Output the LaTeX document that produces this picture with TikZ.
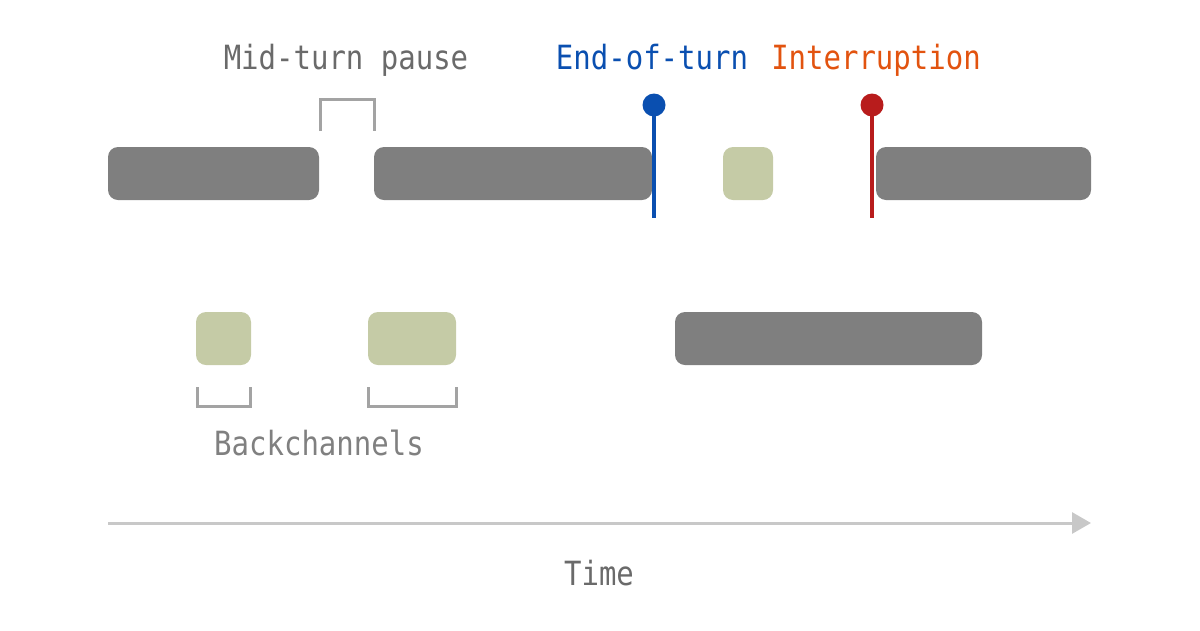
\documentclass[tikz,border=0pt]{standalone}
\usepackage{fontspec}
\setmainfont{DejaVu Sans Mono}
\usetikzlibrary{arrows.meta}
\definecolor{bar}{HTML}{7F7F7F}
\definecolor{bc}{HTML}{C5CBA6}
\definecolor{brk}{HTML}{A3A3A3}
\definecolor{txt}{HTML}{6A6A6A}
\definecolor{eot}{HTML}{0A4FB0}
\definecolor{intr}{HTML}{B81C1C}
\definecolor{intrt}{HTML}{E2530F}
\definecolor{axis}{HTML}{C8C8C8}
\newcommand{\tall}[1]{\scalebox{1}[1.15]{#1}}
\begin{document}
\begin{tikzpicture}[x=1pt,y=-1pt,
  seg/.style={fill=bar,rounded corners=10pt},
  bchan/.style={fill=bc,rounded corners=10pt},
  bracket/.style={draw=brk,line width=3pt},
  lbl/.style={font=\fontsize{29}{34}\selectfont,anchor=base,inner sep=0pt}]
\useasboundingbox (0,0) rectangle (1200,630);
% top row
\fill[seg] (108,147) rectangle (319,200);
\fill[seg] (374,147) rectangle (652,200);
\fill[seg] (876,147) rectangle (1091,200);
\fill[bchan] (723,147) rectangle (773,200);
% bottom row
\fill[bchan] (196,312) rectangle (251,365);
\fill[bchan] (368,312) rectangle (456,365);
\fill[seg] (675,312) rectangle (982,365);
% brackets
\draw[bracket] (320,131) -- (320,99) -- (374,99) -- (374,131);
\draw[bracket] (197,387) -- (197,406) -- (250,406) -- (250,387);
\draw[bracket] (368,387) -- (368,406) -- (456,406) -- (456,387);
% markers
\coordinate (eotTop) at (654,105);
\coordinate (eotBot) at (654,218);
\draw[eot,line width=4pt] (eotTop) -- (eotBot);
\fill[eot] (eotTop) circle (11.5);
\coordinate (inTop) at (872,105);
\coordinate (inBot) at (872,218);
\draw[intr,line width=4pt] (inTop) -- (inBot);
\fill[intr] (inTop) circle (11.5);
% labels
\node[lbl,text=txt] (mtp) at (346,69) {\tall{Mid-turn pause}};
\node[lbl,text=eot] (eotl) at (652,69) {\tall{End-of-turn}};
\node[lbl,text=intrt] (intl) at (876,69) {\tall{Interruption}};
\node[lbl,text=txt!85] (bcl) at (319,455) {\tall{Backchannels}};
\node[lbl,text=txt] (timel) at (599,585) {\tall{Time}};
% axis
\coordinate (axS) at (108,523);
\coordinate (axE) at (1091,523);
\draw[axis,line width=3pt,-{Triangle[length=19pt,width=21pt]}] (axS) -- (axE);
\end{tikzpicture}
\end{document}
